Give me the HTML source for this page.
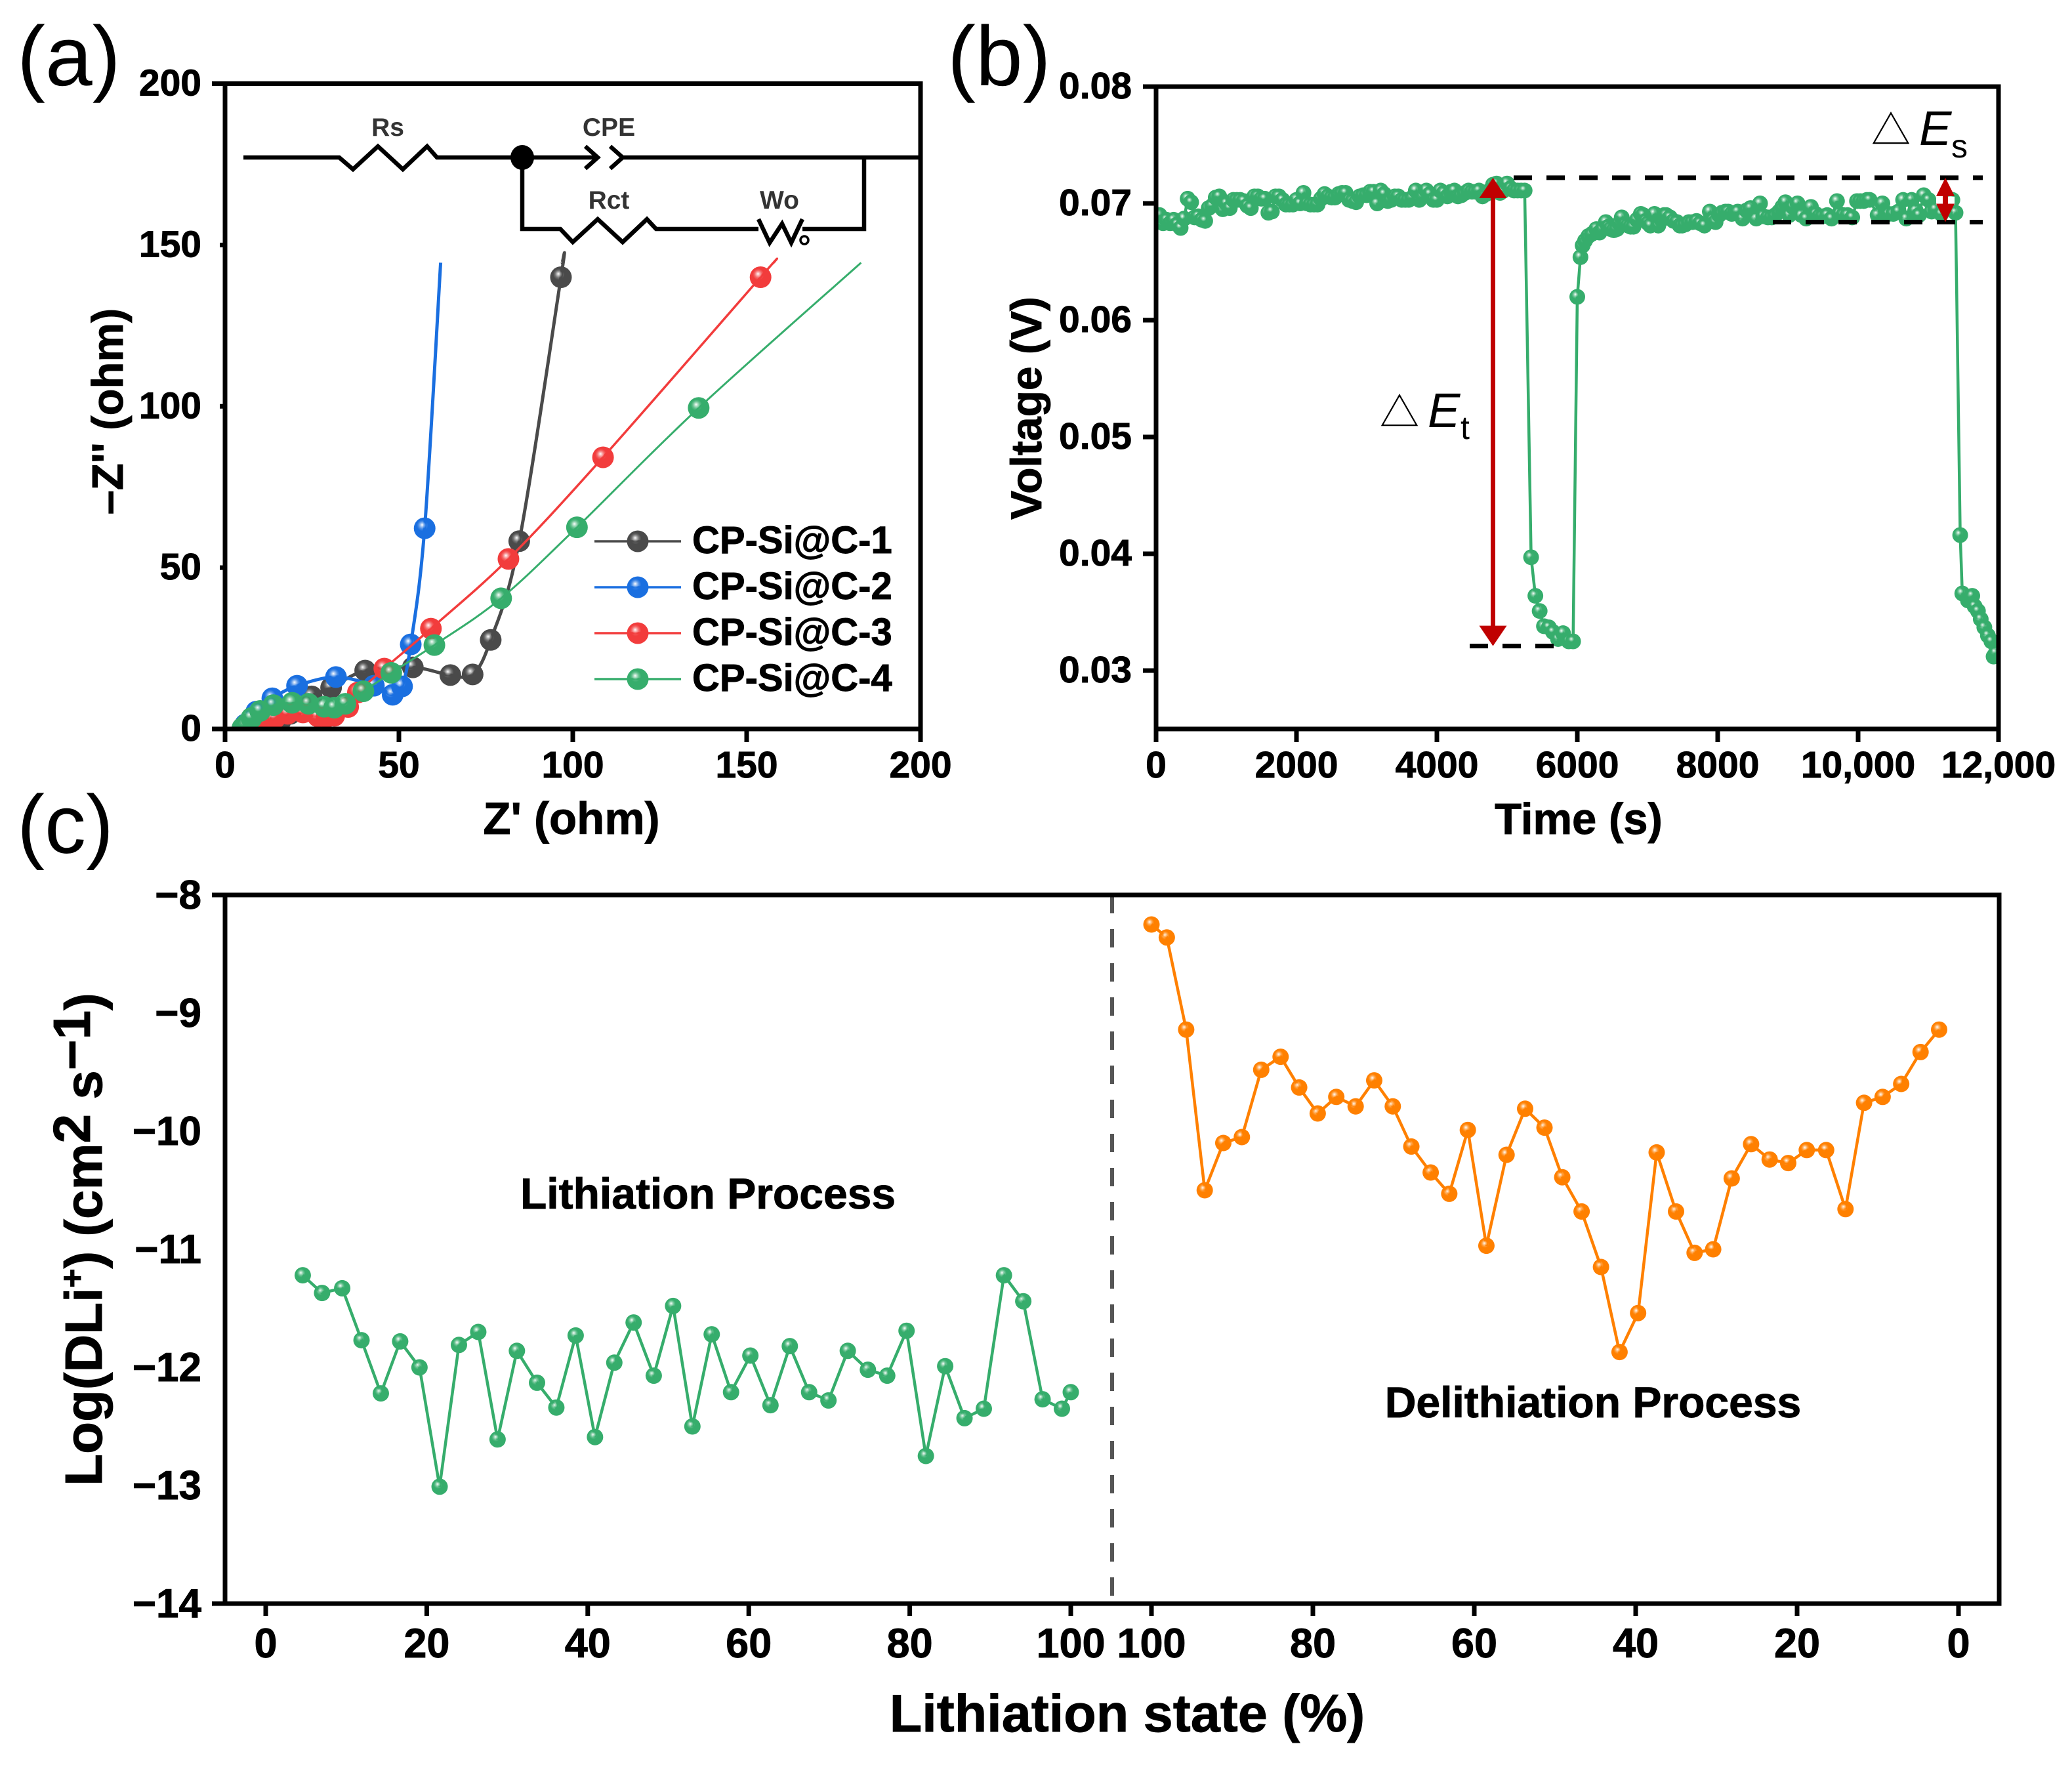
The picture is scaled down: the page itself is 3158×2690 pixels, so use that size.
<!DOCTYPE html>
<html lang="en">
<head>
<meta charset="utf-8">
<title>Electrochemical characterization of CP-Si@C</title>
<style>
html,body{margin:0;padding:0;background:#fff}
svg{display:block}
text{font-family:"Liberation Sans",Arial,sans-serif;fill:#000}
.b{font-weight:700;stroke:#000;stroke-width:.9px}
</style>
</head>
<body>
<svg id="fig" xmlns="http://www.w3.org/2000/svg" width="3158" height="2690" viewBox="0 0 3158 2690">
<defs>
<clipPath id="clipA"><rect x="343" y="127" width="1060" height="984"/></clipPath>
<clipPath id="clipB"><rect x="1762" y="132" width="1284" height="979"/></clipPath>
</defs>
<rect width="3158" height="2690" fill="#fff"/>

<text x="26" y="130" font-size="129">(a)</text>
<text x="1444" y="130" font-size="129">(b)</text>
<text x="26" y="1300" font-size="126">(c)</text>

<g id="panelA"></g>
<g id="panelB"></g>
<g id="panelC"></g>

<g fill="none" stroke="#000" stroke-width="6.5">
<path d="M371 240H517L538 258L576 223L614 258L651 223L666 240H911M892 223L911 240L892 257M930 223L949 240L930 257M949 240H1400"/>
<path d="M796 240V349H854L873 369L911 334L949 369L986 334L1000 349H1156M1156 334L1173 370L1192 341L1206 370L1223 334M1223 349H1317V240"/>
<ellipse cx="796" cy="240" rx="18" ry="19" fill="#000" stroke="none"/>
<circle cx="1226" cy="366" r="6" stroke-width="3.5"/>
</g>
<g font-weight="700" font-size="39" text-anchor="middle">
<text x="591" y="207" style="fill:#333">Rs</text>
<text x="928" y="207" style="fill:#333">CPE</text>
<text x="928" y="318" style="fill:#333">Rct</text>
<text x="1188" y="318" style="fill:#333">Wo</text>
</g>

<text class="b" x="871" y="1271" font-size="69" text-anchor="middle">Z' (ohm)</text>
<text class="b" transform="translate(187 627) rotate(-90)" font-size="67" text-anchor="middle">–Z'' (ohm)</text>

<text class="b" x="2406" y="1271" font-size="67" text-anchor="middle">Time (s)</text>
<text class="b" transform="translate(1587 622) rotate(-90)" font-size="66" text-anchor="middle">Voltage (V)</text>

<text class="b" x="1718" y="2639" font-size="81" text-anchor="middle">Lithiation state (%)</text>
<text class="b" transform="translate(155 1889) rotate(-90)" font-size="80" text-anchor="middle">Log(DLi<tspan dy="-28" font-size="50">+</tspan><tspan dy="28">) (cm</tspan><tspan dy="-18">2</tspan><tspan dy="18"> s</tspan><tspan dy="-18">−1</tspan><tspan dy="18">)</tspan></text>

<text class="b" x="1079" y="1842" font-size="66" text-anchor="middle">Lithiation Process</text>
<text class="b" x="2428" y="2160" font-size="66" text-anchor="middle">Delithiation Process</text>

<g>
<text x="2103" y="650" font-size="60" style="font-family:'Noto Sans CJK SC',sans-serif">△</text>
<text x="2176" y="651" font-size="74" font-style="italic">E</text>
<text x="2226" y="669" font-size="50">t</text>
</g>
<g>
<text x="2852" y="220" font-size="60" style="font-family:'Noto Sans CJK SC',sans-serif">△</text>
<text x="2925" y="221" font-size="74" font-style="italic">E</text>
<text x="2974" y="240" font-size="50">s</text>
</g>

<script>
// ---------- Panel (a) data: Nyquist plot, Z' and -Z'' in ohm ----------
const seriesNames = ["CP-Si@C-1", "CP-Si@C-2", "CP-Si@C-3", "CP-Si@C-4"];
const zReal1 = [8, 15.9, 18.8, 24.9, 30.5, 40.3, 54, 64.8, 71.2, 76.4, 84.6, 96.6];
const zImag1 = [0.5, 2.4, 4.7, 10.1, 12.8, 18.1, 19.1, 16.7, 16.9, 27.6, 58.2, 140];
const zReal2 = [5.8, 9, 13.6, 20.7, 31.9, 42.8, 48.2, 50.9, 53.4, 57.4];
const zImag2 = [1.4, 5.4, 9.5, 13.4, 16.1, 13.4, 10.6, 13.2, 26.2, 62.2];
const zReal3 = [7, 10.1, 14.4, 18, 22.4, 26.7, 29.2, 31.4, 35.4, 38.2, 45.8, 59.2, 81.5, 108.7, 154];
const zImag3 = [0.2, 1.4, 3.4, 4.7, 5.1, 3.9, 3.7, 4.1, 6.8, 11.3, 18.7, 31.1, 52.7, 84.2, 140];
const zReal4 = [5, 6.1, 7.6, 10.1, 13.9, 19.3, 24, 28.5, 31.4, 34.6, 39.8, 47.8, 60.2, 79.4, 101.2, 136.2];
const zImag4 = [0.3, 1.4, 3.4, 5.6, 7.4, 8.1, 7.8, 6.9, 6.6, 7.8, 11.7, 17.4, 26, 40.5, 62.5, 99.5];
const fitEndReal = [97, 62, 157.8, 182.9];
const fitEndImag = [144.5, 144.5, 144.5, 144.5];
const aTicks = [0, 50, 100, 150, 200];

// ---------- Panel (b) data: voltage profile ----------
const timeS = [50,100,150,200,250,300,350,400,450,500,550,600,650,700,750,800,850,900,950,1000,1050,1100,1150,1200,1250,1300,1350,1400,1450,1500,1550,1600,1650,1700,1750,1800,1850,1900,1950,2000,2050,2100,2150,2200,2250,2300,2350,2400,2450,2500,2550,2600,2650,2700,2750,2800,2850,2900,2950,3000,3050,3100,3150,3200,3250,3300,3350,3400,3450,3500,3550,3600,3650,3700,3750,3800,3850,3900,3950,4000,4050,4100,4150,4200,4250,4300,4350,4400,4450,4500,4550,4600,4650,4700,4750,4800,4850,4900,4950,5000,5050,5100,5150,5200,5250,5342,5403,5464,5525,5595,5655,5726,5797,5878,5940,6000,6045,6076,6110,6158,6210,6271,6316,6360,6407,6440,6475,6520,6565,6600,6633,6680,6724,6760,6801,6850,6905,6940,6973,7010,7041,7100,7154,7200,7235,7267,7320,7371,7420,7460,7494,7540,7590,7640,7698,7750,7811,7888,7930,7970,8020,8060,8110,8150,8200,8250,8286,8354,8410,8467,8549,8603,8650,8716,8770,8820,8875,8920,8965,9020,9070,9137,9192,9260,9328,9396,9450,9500,9560,9622,9699,9735,9790,9850,9916,9984,10030,10080,10125,10165,10278,10346,10437,10500,10573,10641,10686,10763,10820,10867,10935,11003,11048,11100,11184,11260,11343,11388,11454,11484,11565,11600,11626,11660,11707,11747,11798,11849,11899,11930,11960];
const voltageV = [.0690,.0683,.0686,.0683,.0686,.0682,.0679,.0687,.0704,.0701,.0688,.0689,.0686,.0685,.0696,.0698,.0705,.0706,.0695,.0700,.0696,.0703,.0703,.0703,.0702,.0698,.0696,.0706,.0706,.0704,.0704,.0692,.0693,.0706,.0706,.0703,.0699,.0699,.0699,.0703,.0700,.0709,.0700,.0699,.0699,.0699,.0704,.0708,.0706,.0705,.0705,.0708,.0709,.0709,.0703,.0702,.0701,.0706,.0707,.0707,.0710,.0710,.0700,.0711,.0708,.0702,.0703,.0706,.0706,.0703,.0703,.0703,.0705,.0711,.0703,.0706,.0711,.0708,.0703,.0703,.0711,.0709,.0706,.0710,.0711,.0706,.0707,.0709,.0711,.0710,.0710,.0711,.0706,.0708,.0711,.0716,.0717,.0709,.0711,.0717,.0713,.0711,.0711,.0711,.0711,.0397,.0364,.0351,.0338,.0337,.0333,.0327,.0332,.0325,.0325,.0620,.0654,.0664,.0668,.0672,.0674,.0678,.0675,.0678,.0684,.0680,.0678,.0677,.0678,.0683,.0688,.0682,.0681,.0680,.0680,.0686,.0691,.0690,.0685,.0683,.0681,.0691,.0681,.0686,.0690,.0690,.0688,.0685,.0684,.0681,.0681,.0682,.0684,.0684,.0685,.0683,.0681,.0693,.0686,.0684,.0690,.0692,.0693,.0693,.0691,.0692,.0693,.0687,.0694,.0696,.0687,.0700,.0689,.0688,.0688,.0690,.0693,.0697,.0701,.0690,.0697,.0700,.0690,.0687,.0697,.0691,.0689,.0689,.0690,.0687,.0702,.0691,.0690,.0690,.0688,.0702,.0702,.0702,.0703,.0703,.0690,.0700,.0691,.0691,.0693,.0703,.0687,.0703,.0694,.0690,.0707,.0703,.0693,.0695,.0691,.0696,.0703,.0692,.0416,.0366,.0360,.0362,.0364,.0355,.0351,.0344,.0337,.0330,.0325,.0312,.0315];
const bXTicks = [0, 2000, 4000, 6000, 8000, 10000, 12000];
const bXLabels = ["0", "2000", "4000", "6000", "8000", "10,000", "12,000"];
const bYTicks = [0.03, 0.04, 0.05, 0.06, 0.07, 0.08];
const bYLabels = ["0.03", "0.04", "0.05", "0.06", "0.07", "0.08"];
const deltaEtTop = 0.0722;
const deltaEtBottom = 0.0321;
const deltaEsBottom = 0.0684;

// ---------- Panel (c) data: log D(Li+) ----------
const lithState = [4.6,7.0,9.5,11.9,14.3,16.7,19.1,21.6,24.0,26.4,28.8,31.2,33.7,36.1,38.5,40.9,43.3,45.7,48.2,50.6,53.0,55.4,57.8,60.2,62.7,65.1,67.5,69.9,72.3,74.8,77.2,79.6,82.0,84.4,86.8,89.2,91.7,94.1,96.5,98.9,100];
const lithLogD = [-11.22,-11.37,-11.33,-11.77,-12.22,-11.78,-12.00,-13.01,-11.81,-11.70,-12.61,-11.86,-12.13,-12.34,-11.73,-12.59,-11.96,-11.62,-12.07,-11.48,-12.50,-11.72,-12.21,-11.90,-12.32,-11.82,-12.21,-12.28,-11.86,-12.02,-12.07,-11.69,-12.75,-11.99,-12.43,-12.35,-11.22,-11.44,-12.27,-12.35,-12.21];
const delithState = [100,98.1,95.7,93.4,91.1,88.8,86.4,84.0,81.7,79.4,77.1,74.7,72.4,70.1,67.8,65.4,63.1,60.8,58.5,56.0,53.7,51.3,49.1,46.7,44.3,42.0,39.7,37.4,35.0,32.7,30.4,28.1,25.7,23.4,21.1,18.8,16.4,14.0,11.7,9.4,7.1,4.7,2.4];
const delithLogD = [-8.25,-8.36,-9.14,-10.50,-10.10,-10.05,-9.48,-9.37,-9.63,-9.85,-9.71,-9.79,-9.57,-9.79,-10.13,-10.35,-10.53,-9.99,-10.97,-10.20,-9.81,-9.97,-10.39,-10.68,-11.15,-11.87,-11.54,-10.18,-10.68,-11.03,-11.00,-10.40,-10.11,-10.24,-10.27,-10.16,-10.16,-10.66,-9.76,-9.71,-9.60,-9.33,-9.14];
const cYTicks = [-8, -9, -10, -11, -12, -13, -14];
const cYLabels = ["−8", "−9", "−10", "−11", "−12", "−13", "−14"];
const cXTicks = [0, 20, 40, 60, 80, 100];

// ---------- Axis functions ----------
const xA = v => 343 + (v - 0) * (1403 - 343) / 200;
const yA = v => 1111 - v * (1111 - 127.5) / 200;
const xB = v => 1762 + v * (3046 - 1762) / 12000;
const yB = v => 132 + (0.08 - v) * (1111 - 132) / 0.055;
const yC = v => 1364 + (-8 - v) * 180;
const xCL = v => 405 + v * 12.27;
const xCR = v => 2985 - v * 12.3;

const NS = "http://www.w3.org/2000/svg";
const svg = document.getElementById("fig");
const defs = svg.querySelector("defs");

function make(tag, parent, props) {
  const el = document.createElementNS(NS, tag);
  for (const k in props) el.setAttribute(k, props[k]);
  parent.appendChild(el);
  return el;
}

function addGradient(id, color) {
  const g = make("radialGradient", defs, { id: id, cx: "0.42", cy: "0.4", r: "0.58", fx: "0.38", fy: "0.34" });
  make("stop", g, { offset: "0", "stop-color": "#fff", "stop-opacity": "0.95" });
  make("stop", g, { offset: "0.3", "stop-color": color, "stop-opacity": "0.8" });
  make("stop", g, { offset: "0.45", "stop-color": color });
  make("stop", g, { offset: "1", "stop-color": color });
}
const colors = ["#4a4a4a", "#1a6fe0", "#f23c3c", "#36ad6c"];
const ORANGE = "#ff8000";
addGradient("gm0", colors[0]);
addGradient("gm1", colors[1]);
addGradient("gm2", colors[2]);
addGradient("gm3", colors[3]);
addGradient("gmO", ORANGE);

function catmull(pts) {
  let d = "M" + pts[0][0].toFixed(1) + " " + pts[0][1].toFixed(1);
  for (let i = 0; i < pts.length - 1; i++) {
    const p0 = pts[Math.max(i - 1, 0)], p1 = pts[i], p2 = pts[i + 1], p3 = pts[Math.min(i + 2, pts.length - 1)];
    const c1x = p1[0] + (p2[0] - p0[0]) / 6, c1y = p1[1] + (p2[1] - p0[1]) / 6;
    const c2x = p2[0] - (p3[0] - p1[0]) / 6, c2y = p2[1] - (p3[1] - p1[1]) / 6;
    d += "C" + c1x.toFixed(1) + " " + c1y.toFixed(1) + " " + c2x.toFixed(1) + " " + c2y.toFixed(1) + " " + p2[0].toFixed(1) + " " + p2[1].toFixed(1);
  }
  return d;
}

function tickText(parent, x, y, str, size, anchor) {
  const t = make("text", parent, { x: x, y: y, "font-size": size, "text-anchor": anchor, "class": "b" });
  t.textContent = str;
  
  
  return t;
}

function tickLine(parent, x1, y1, x2, y2) {
  const l = make("line", parent, { x1: x1, y1: y1, x2: x2, y2: y2, stroke: "#000", "stroke-width": 7 });
  
  
  return l;
}

// ---------- Panel (a) ----------
(function () {
  const g = document.getElementById("panelA");
  const plot = make("g", g, { "clip-path": "url(#clipA)" });
  const xs = [zReal1, zReal2, zReal3, zReal4];
  const ys = [zImag1, zImag2, zImag3, zImag4];
  const widths = [5, 5, 3.5, 3];
  const keys = ["cp-si-c-1", "cp-si-c-2", "cp-si-c-3", "cp-si-c-4"];
  xs.forEach((xArr, s) => {
    const pts = xArr.map((v, i) => [xA(v), yA(ys[s][i])]);
    pts.push([xA(fitEndReal[s]), yA(fitEndImag[s])]);
    const line = make("path", plot, { d: catmull(pts), fill: "none", stroke: colors[s], "stroke-width": widths[s] });
    
    
    xArr.forEach((v, i) => {
      const m = make("circle", plot, { cx: xA(v), cy: yA(ys[s][i]), r: 16.5, fill: "url(#gm" + s + ")" });
      
      
    });
    const ly = 825 + s * 70;
    const ll = make("line", g, { x1: 906, y1: ly, x2: 1038, y2: ly, stroke: colors[s], "stroke-width": 3.5 });
    
    
    const lm = make("circle", g, { cx: 972, cy: ly, r: 16.5, fill: "url(#gm" + s + ")" });
    
    
    const lt = make("text", g, { x: 1055, y: ly + 18, "font-size": 58, "class": "b" });
    lt.textContent = seriesNames[s];
    
    
  });
  const frame = make("rect", g, { x: xA(0), y: yA(200), width: xA(200) - xA(0), height: yA(0) - yA(200), fill: "none", stroke: "#000", "stroke-width": 7 });
  
  
  aTicks.forEach(v => {
    tickLine(g, xA(v), yA(0), xA(v), yA(0) + 20);
    const long = v === 0 || v === 200;
    tickLine(g, xA(0) - (long ? 20 : 8), yA(v), xA(0), yA(v));
    tickText(g, xA(v), 1185, String(v), 57, "middle");
    tickText(g, 307, yA(v) + 18, String(v), 57, "end");
  });
})();

// ---------- Panel (b) ----------
(function () {
  const g = document.getElementById("panelB");
  const plot = make("g", g, { "clip-path": "url(#clipB)" });
  const pts = timeS.map((t, i) => xB(t).toFixed(1) + "," + yB(voltageV[i]).toFixed(1)).join(" ");
  const line = make("polyline", plot, { points: pts, fill: "none", stroke: colors[3], "stroke-width": 4.5 });
  
  
  timeS.forEach((t, i) => {
    const m = make("circle", plot, { cx: xB(t), cy: yB(voltageV[i]), r: 12, fill: "url(#gm3)" });
    
    
  });
  const frame = make("rect", g, { x: xB(0), y: yB(0.08), width: xB(12000) - xB(0), height: yB(0.025) - yB(0.08), fill: "none", stroke: "#000", "stroke-width": 7 });
  
  
  bXTicks.forEach((v, i) => {
    tickLine(g, xB(v), yB(0.025), xB(v), yB(0.025) + 20);
    tickText(g, xB(v), 1185, bXLabels[i], 57, "middle");
  });
  bYTicks.forEach((v, i) => {
    tickLine(g, xB(0) - 20, yB(v), xB(0), yB(v));
    tickText(g, 1725, yB(v) + 18, bYLabels[i], 57, "end");
  });

  const topDash = make("line", g, { x1: 2307, y1: yB(deltaEtTop), x2: 3022, y2: yB(deltaEtTop), stroke: "#000", "stroke-width": 7, "stroke-dasharray": "28 22" });
  
  
  const lowDash = make("line", g, { x1: 2702, y1: yB(deltaEsBottom), x2: 3022, y2: yB(deltaEsBottom), stroke: "#000", "stroke-width": 7, "stroke-dasharray": "28 22" });
  
  
  const botDash = make("line", g, { x1: 2240, y1: yB(deltaEtBottom), x2: 2370, y2: yB(deltaEtBottom), stroke: "#000", "stroke-width": 7, "stroke-dasharray": "28 22" });
  
  

  const RED = "#c00000";
  const ax = 2275.5, t1 = yB(deltaEtTop), b1 = yB(deltaEtBottom);
  const shaft = make("line", g, { x1: ax, y1: t1 + 20, x2: ax, y2: b1 - 20, stroke: RED, "stroke-width": 7 });
  
  
  const heads = make("path", g, { fill: RED, d: "M" + ax + " " + t1 + "l21 31h-42zM" + ax + " " + b1 + "l21 -31h-42z" });
  
  

  const sx = 2965, t2 = yB(deltaEtTop), b2 = yB(deltaEsBottom);
  const halo = make("rect", g, { x: sx - 14, y: t2 + 29, width: 28, height: 12, fill: "#fff" });
  
  
  const shaft2 = make("line", g, { x1: sx, y1: t2 + 20, x2: sx, y2: b2 - 20, stroke: RED, "stroke-width": 8 });
  
  
  const heads2 = make("path", g, { fill: RED, d: "M" + sx + " " + t2 + "l14 28h-28zM" + sx + " " + b2 + "l14 -28h-28z" });
  
  
})();

// ---------- Panel (c) ----------
(function () {
  const g = document.getElementById("panelC");
  const lp = lithState.map((v, i) => xCL(v).toFixed(1) + "," + yC(lithLogD[i]).toFixed(1)).join(" ");
  const dp = delithState.map((v, i) => xCR(v).toFixed(1) + "," + yC(delithLogD[i]).toFixed(1)).join(" ");
  const l1 = make("polyline", g, { points: lp, fill: "none", stroke: colors[3], "stroke-width": 4.5 });
  
  
  const l2 = make("polyline", g, { points: dp, fill: "none", stroke: ORANGE, "stroke-width": 4.5 });
  
  
  lithState.forEach((v, i) => {
    const m = make("circle", g, { cx: xCL(v), cy: yC(lithLogD[i]), r: 12.5, fill: "url(#gm3)" });
    
    
  });
  delithState.forEach((v, i) => {
    const m = make("circle", g, { cx: xCR(v), cy: yC(delithLogD[i]), r: 12.5, fill: "url(#gmO)" });
    
    
  });
  const sep = make("line", g, { x1: 1695, y1: 1364, x2: 1695, y2: 2444, stroke: "#555", "stroke-width": 6, "stroke-dasharray": "28 24" });
  
  
  const frame = make("rect", g, { x: 343, y: 1364, width: 2704, height: 1080, fill: "none", stroke: "#000", "stroke-width": 7 });
  
  
  cYTicks.forEach((v, i) => {
    if (v === -8 || v === -14) tickLine(g, 323, yC(v), 343, yC(v));
    tickText(g, 307, yC(v) + 21, cYLabels[i], 62, "end");
  });
  cXTicks.forEach(v => {
    tickLine(g, xCL(v), 2444, xCL(v), 2463);
    tickLine(g, xCR(v), 2444, xCR(v), 2463);
    tickText(g, xCL(v), 2526, String(v), 63, "middle");
    tickText(g, xCR(v), 2526, String(v), 63, "middle");
  });
})();
</script>
</svg>
</body>
</html>
